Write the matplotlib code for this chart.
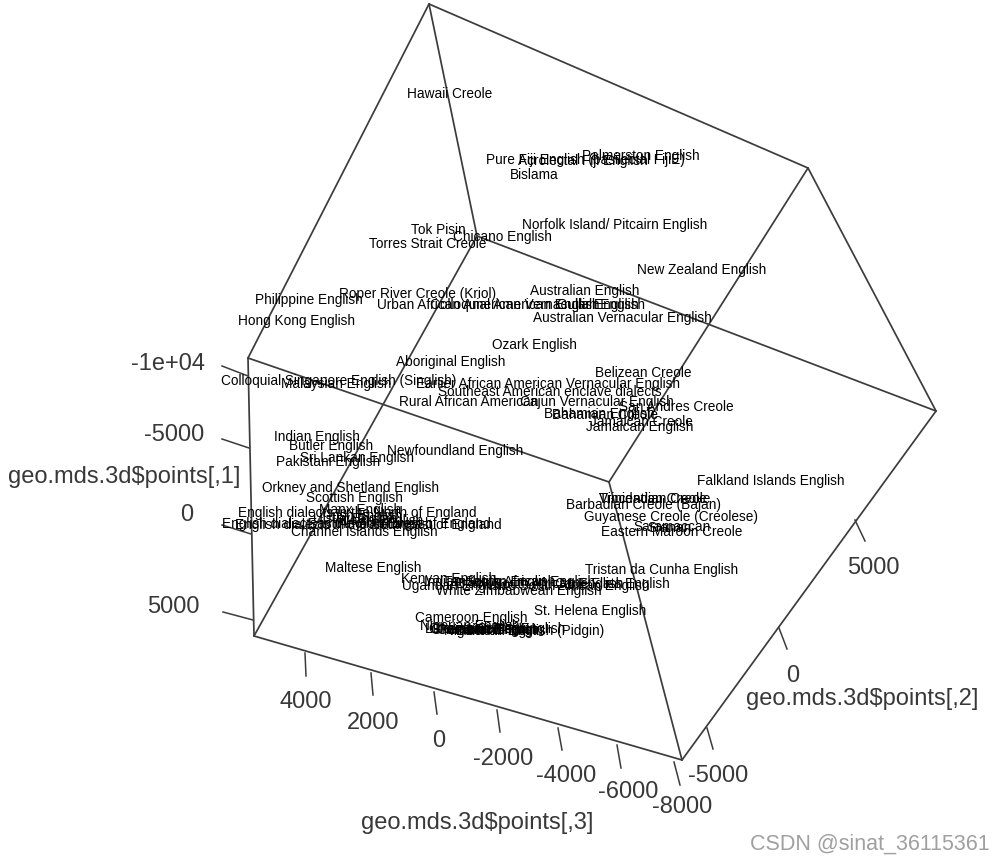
import matplotlib
matplotlib.use("Agg")
import matplotlib.pyplot as plt

plt.rcParams["font.family"] = ["Liberation Sans", "DejaVu Sans"]

# everything, in image pixels (x right, y down)
corner_names = ["top", "back_right", "right", "bottom", "front_left", "left", "hidden", "front"]
corner_x = [429, 808, 936, 682, 254, 248, 477, 609]
corner_y = [4, 168, 411, 760, 636, 358, 236, 482]

box_edges = [
    ("top", "back_right"), ("back_right", "right"), ("right", "bottom"),
    ("bottom", "front_left"), ("front_left", "left"), ("left", "top"),
    ("top", "hidden"), ("hidden", "front_left"), ("hidden", "right"),
    ("left", "front"), ("front", "back_right"), ("front", "bottom"),
]

# axis 1 (left side)
ticks1_labels = ["-1e+04", "-5000", "0", "5000"]
ticks1_x0 = [222, 222, 222, 223]
ticks1_y0 = [366, 439, 525, 612]
ticks1_x1 = [248, 249, 251, 253]
ticks1_y1 = [376, 448, 534, 620]
ticks1_text_x = [168, 174, 187, 173]
ticks1_text_y = [364, 435, 515, 607]

# axis 2 (right side)
ticks2_labels = ["-5000", "0", "5000"]
ticks2_x0 = [707, 779, 855]
ticks2_y0 = [728, 628, 520]
ticks2_x1 = [713, 787, 865]
ticks2_y1 = [749, 649, 541]
ticks2_text_x = [718, 793, 873]
ticks2_text_y = [776, 676, 568]

# axis 3 (bottom)
ticks3_labels = ["4000", "2000", "0", "-2000", "-4000", "-6000", "-8000"]
ticks3_x0 = [305, 371, 434, 497, 558, 617, 674]
ticks3_y0 = [653, 673, 692, 710, 728, 745, 762]
ticks3_x1 = [306, 373, 437, 500, 562, 621, 680]
ticks3_y1 = [676, 695, 714, 732, 750, 768, 785]
ticks3_text_x = [306, 373, 439, 503, 566, 628, 682]
ticks3_text_y = [702, 723, 741, 759, 776, 792, 807]

axis_titles = ["geo.mds.3d$points[,1]", "geo.mds.3d$points[,2]", "geo.mds.3d$points[,3]"]
axis_title_x = [124, 862, 477]
axis_title_y = [477, 699, 823]

variety_labels = [
    "Hawaii Creole", "Pure Fiji English (basilectal FijiE)", "Acrolectal Fiji English",
    "Palmerston English", "Bislama", "Norfolk Island/ Pitcairn English", "Tok Pisin",
    "Chicano English", "Torres Strait Creole", "New Zealand English", "Australian English",
    "Roper River Creole (Kriol)", "Philippine English", "Urban African American Vernacular English",
    "Colloquial American English", "Gullah English", "Australian Vernacular English",
    "Hong Kong English", "Ozark English", "Aboriginal English", "Belizean Creole",
    "Colloquial Singapore English (Singlish)", "Malaysian English",
    "Earlier African American Vernacular English", "Southeast American enclave dialects",
    "Rural African American", "Cajun Vernacular English", "San Andres Creole",
    "Bahamian English", "Bahamian Creole", "Jamaican Creole", "Jamaican English",
    "Indian English", "Butler English", "Newfoundland English", "Sri Lankan English",
    "Pakistani English", "Orkney and Shetland English", "Scottish English", "Manx English",
    "English dialects in the North of England", "English dialects in the Southwest of England",
    "English dialects in the Southeast of England", "Channel Islands English",
    "Irish English", "Welsh English", "East Anglian English", "Ulster English",
    "Falkland Islands English", "Vincentian Creole", "Trinidadian Creole",
    "Barbadian Creole (Bajan)", "Guyanese Creole (Creolese)", "Saramaccan", "Sranan",
    "Eastern Maroon Creole", "Tristan da Cunha English", "St. Helena English", "Maltese English",
    "Kenyan English", "Ugandan English", "White Zimbabwean English", "Tanzanian English",
    "Indian South African English", "Black South African English", "White South African English",
    "Cape Flats English", "Cameroon English", "Nigerian English", "Ghanaian English",
    "Ghanaian Pidgin", "Nigerian Pidgin", "Cameroon Pidgin", "Krio",
    "Liberian Settler English", "Liberian English (Pidgin)",
]
variety_x = [
    450, 585, 583, 641, 534, 615, 438, 502, 428, 702, 585,
    418, 309, 508, 515, 601, 622, 297, 534, 451, 643,
    339, 336, 548, 550, 469, 597, 676,
    599, 605, 641, 640,
    317, 331, 455, 357, 328, 351, 354, 360,
    357, 356, 368, 364,
    365, 380, 370, 355,
    771, 653, 655, 644, 671, 672, 670, 672, 662, 590, 373,
    449, 454, 519, 500, 510, 540, 565, 612, 471, 470, 485,
    480, 490, 490, 480, 495, 530,
]
variety_y = [
    94, 160, 161, 156, 175, 225, 230, 237, 244, 270, 291,
    294, 300, 305, 305, 305, 318, 321, 345, 362, 373,
    381, 384, 384, 392, 402, 402, 407,
    414, 415, 422, 427,
    437, 446, 451, 458, 462, 488, 498, 510,
    513, 524, 525, 532,
    516, 521, 524, 519,
    481, 499, 499, 505, 517, 527, 528, 532, 570, 611, 568,
    579, 586, 591, 582, 582, 584, 586, 584, 618, 626, 630,
    629, 631, 630, 629, 629, 631,
]

watermark = "CSDN @sinat_36115361"

fig = plt.figure(figsize=(10.07, 8.64), dpi=100)
ax = fig.add_axes([0, 0, 1, 1])
ax.set_xlim(0, 1007)
ax.set_ylim(864, 0)
ax.axis("off")

line_color = "#3c3c3c"
text_color = "#383838"

corners = {n: (x, y) for n, x, y in zip(corner_names, corner_x, corner_y)}
for a, b in box_edges:
    ax.plot(
        [corners[a][0], corners[b][0]],
        [corners[a][1], corners[b][1]],
        color=line_color,
        linewidth=1.25,
        solid_capstyle="round"
    )

tick_sets = [
    (ticks1_labels, ticks1_x0, ticks1_y0, ticks1_x1, ticks1_y1, ticks1_text_x, ticks1_text_y),
    (ticks2_labels, ticks2_x0, ticks2_y0, ticks2_x1, ticks2_y1, ticks2_text_x, ticks2_text_y),
    (ticks3_labels, ticks3_x0, ticks3_y0, ticks3_x1, ticks3_y1, ticks3_text_x, ticks3_text_y),
]
for labels, x0, y0, x1, y1, tx, ty in tick_sets:
    for i, lab in enumerate(labels):
        ax.plot([x0[i], x1[i]], [y0[i], y1[i]], color=line_color, linewidth=1.1)
        ax.text(tx[i], ty[i], lab, ha="center", va="center", fontsize=17, color=text_color)

for t, x, y in zip(axis_titles, axis_title_x, axis_title_y):
    ax.text(x, y, t.replace("$", r"\$"), ha="center", va="center", fontsize=17, color=text_color)

for lab, x, y in zip(variety_labels, variety_x, variety_y):
    ax.text(x, y, lab, ha="center", va="center", fontsize=9.8, color="black")

ax.text(990, 844, watermark, ha="right", va="center", fontsize=15.5, color="#a0a0a0")

plt.savefig("out.png", dpi=100)
plt.close()
